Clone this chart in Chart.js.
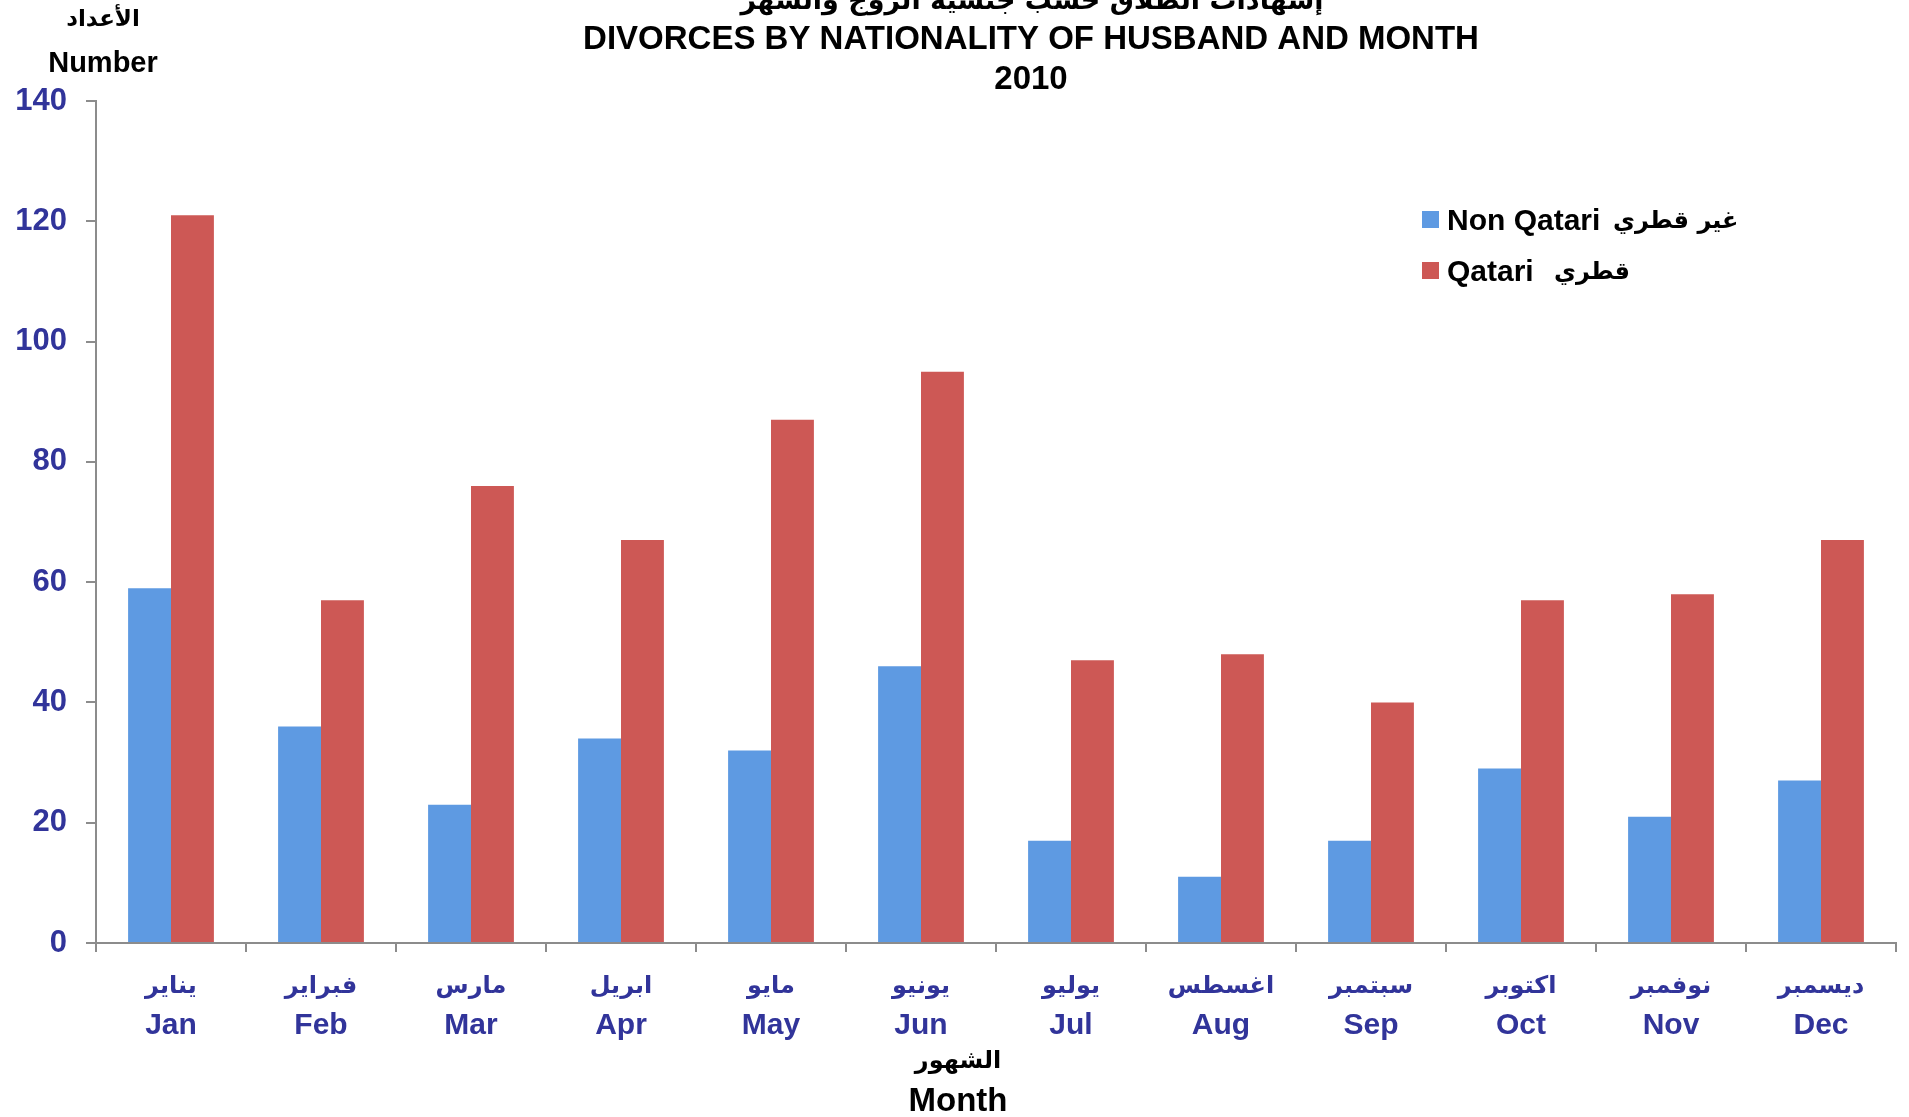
<!DOCTYPE html>
<html>
<head>
<meta charset="utf-8">
<script src="https://cdn.jsdelivr.net/npm/chart.js@4/dist/chart.umd.min.js"></script>
<style>
html,body{margin:0;padding:0;background:#fff;}
#wrap{width:1909px;height:1117px;position:relative;}
</style>
</head>
<body>
<div id="wrap"><canvas id="c" width="1909" height="1117"></canvas></div>
<script>
const monthsAr = ["يناير","فبراير","مارس","ابريل","مايو","يونيو","يوليو","اغسطس","سبتمبر","اكتوبر","نوفمبر","ديسمبر"];
const monthsEn = ["Jan","Feb","Mar","Apr","May","Jun","Jul","Aug","Sep","Oct","Nov","Dec"];
const nonQatari = [59,36,23,34,32,46,17,11,17,29,21,27];
const qatari = [121,57,76,67,87,95,47,48,40,57,58,67];
const seriesEn = ["Non Qatari","Qatari"];
const seriesAr = ["غير قطري","قطري"];
const titleLines = ["إشهادات الطلاق حسب جنسية الزوج والشهر","DIVORCES BY NATIONALITY OF HUSBAND AND MONTH","2010"];
const yTitle = ["الأعداد","Number"];
const xTitle = ["الشهور","Month"];

const FONT = "'Liberation Sans', Arial, 'DejaVu Sans', sans-serif";
const AFONT = "'DejaVu Sans', sans-serif";
const BLUE = '#5E9AE2', RED = '#CD5855', TXT = '#31349A', AX = '#8c8c8c';

const textPlugin = {
  id:'texts',
  afterDraw(chart){
    const ctx = chart.ctx;
    const xs = chart.scales.x;
    ctx.save();
    // Arabic month labels above the English tick labels
    ctx.fillStyle = TXT;
    ctx.textAlign = 'center';
    ctx.textBaseline = 'middle';
    ctx.font = "bold 24px " + AFONT;
    monthsAr.forEach((m,i)=>{ ctx.fillText(m, xs.getPixelForTick(i), 987); });

    ctx.fillStyle = '#000';
    ctx.textBaseline = 'alphabetic';
    // titles
    ctx.font = "bold 27px " + AFONT;
    ctx.fillText(titleLines[0], 1032, 9);
    ctx.font = "bold 33px " + FONT;
    ctx.fillText(titleLines[1], 1031, 49);
    ctx.fillText(titleLines[2], 1031, 89);
    // y title
    ctx.font = "bold 23px " + AFONT;
    ctx.fillText(yTitle[0], 103, 26);
    ctx.font = "bold 29px " + FONT;
    ctx.fillText(yTitle[1], 103, 72);
    // x title
    ctx.font = "bold 24px " + AFONT;
    ctx.fillText(xTitle[0], 958, 1068);
    ctx.font = "bold 33px " + FONT;
    ctx.fillText(xTitle[1], 958, 1111);
    // legend
    ctx.textAlign = 'left';
    const cols = [BLUE, RED];
    const ys = [219, 270];
    const arX = [1613, 1554];
    for (let i=0;i<2;i++){
      ctx.fillStyle = cols[i];
      ctx.fillRect(1422, ys[i]-8, 17, 17);
      ctx.fillStyle = '#000';
      ctx.font = "bold 30px " + FONT;
      ctx.fillText(seriesEn[i], 1447, ys[i]+11);
      ctx.font = "bold 24px " + AFONT;
      ctx.fillText(seriesAr[i], arX[i], ys[i]+9);
    }
    ctx.restore();
  }
};

new Chart(document.getElementById('c'), {
  type:'bar',
  data:{
    labels: monthsEn,
    datasets:[
      {label: seriesEn[0] + ' ' + seriesAr[0], data: nonQatari, backgroundColor: BLUE, borderWidth:0},
      {label: seriesEn[1] + '  ' + seriesAr[1], data: qatari, backgroundColor: RED, borderWidth:0}
    ]
  },
  options:{
    responsive:false,
    animation:false,
    layout:{padding:{top:101, right:13, left:0, bottom:0}},
    plugins:{legend:{display:false}, title:{display:false}, tooltip:{enabled:false}},
    datasets:{bar:{categoryPercentage:0.572, barPercentage:1.0}},
    scales:{
      x:{
        afterFit(s){ s.height = 174; },
        grid:{offset:true, drawOnChartArea:false, drawTicks:true, tickLength:9, color:AX, lineWidth:2},
        border:{color:AX, width:2},
        ticks:{color:TXT, font:{family:FONT, size:30, weight:'bold', lineHeight:1.2}, padding:56, maxRotation:0, autoSkip:false}
      },
      y:{
        min:0, max:140,
        afterFit(s){ s.width = 96; },
        grid:{drawOnChartArea:false, drawTicks:true, tickLength:10, color:AX, lineWidth:2},
        border:{color:AX, width:2},
        ticks:{stepSize:20, color:TXT, font:{family:FONT, size:31, weight:'bold'}, padding:19}
      }
    }
  },
  plugins:[textPlugin]
});
</script>
</body>
</html>
